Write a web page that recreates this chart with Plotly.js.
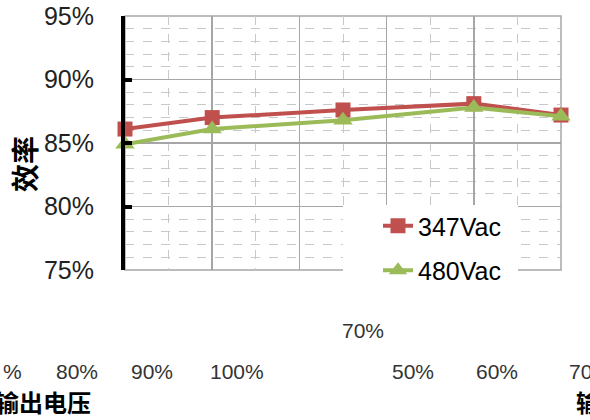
<!DOCTYPE html>
<html>
<head>
<meta charset="utf-8">
<script src="https://cdn.plot.ly/plotly-3.0.1.min.js"></script>
<style>
html,body{margin:0;padding:0;background:#fff;}
#chart{width:590px;height:420px;}
</style>
</head>
<body>
<div id="chart"></div>
<script>
// Data
var loadPct = [0, 20, 50, 80, 100];
var eff347 = [86.1, 87.0, 87.6, 88.1, 87.2];
var eff480 = [84.9, 86.1, 86.8, 87.8, 87.1];
var seriesNames = ['347Vac', '480Vac'];
var yTitle = '效率';
var xTitleLeft = '输出电压';
var stray1 = ['70%'];
var stray2 = ['%', '80%', '90%', '100%', '50%', '60%', '70'];

var font = 'Arial, "Liberation Sans", sans-serif';
var cjk = '"Noto Sans CJK SC", sans-serif';

var traces = [
  {x: loadPct, y: eff347, name: seriesNames[0], type: 'scatter', mode: 'lines+markers',
   legendgroup: 'a', cliponaxis: false,
   line: {color: '#C0504D', width: 4},
   marker: {symbol: 'square', size: 15, color: '#C0504D'}},
  {x: loadPct, y: eff480, name: seriesNames[1], type: 'scatter', mode: 'lines+markers',
   legendgroup: 'b', cliponaxis: false,
   line: {color: '#9BBB59', width: 4},
   marker: {symbol: 'triangle-up', size: 17, color: '#9BBB59'}}
];

function px2x(p){ return (p - 125) / 436; }
function px2y(p){ return (270 - p) / 254; }

var strayX2 = [12, 77, 152, 237, 413, 497, 580];
var annotations = [];
annotations.push({text: stray1[0], xref: 'paper', yref: 'paper', x: px2x(363), y: px2y(330),
  xanchor: 'center', yanchor: 'middle',
  showarrow: false, font: {family: font, size: 21, color: '#333'}});
for (var i = 0; i < stray2.length; i++) {
  annotations.push({text: stray2[i], xref: 'paper', yref: 'paper', x: px2x(strayX2[i]), y: px2y(371),
    xanchor: 'center', yanchor: 'middle',
    showarrow: false, font: {family: font, size: 21, color: '#333'}});
}
annotations.push({text: '<b>' + xTitleLeft + '</b>', xref: 'paper', yref: 'paper', x: px2x(93), y: px2y(401),
  xanchor: 'right', yanchor: 'middle', showarrow: false, font: {family: cjk, size: 24, color: '#000'}});
annotations.push({text: '<b>' + xTitleLeft + '</b>', xref: 'paper', yref: 'paper', x: px2x(574), y: px2y(401),
  xanchor: 'left', yanchor: 'middle', showarrow: false, font: {family: cjk, size: 24, color: '#000'}});
// y-axis title
annotations.push({text: '<b>' + yTitle + '</b>', xref: 'paper', yref: 'paper', x: px2x(24), y: px2y(164),
  xanchor: 'center', yanchor: 'middle', textangle: -90, showarrow: false,
  font: {family: cjk, size: 28, color: '#000'}});

var shapes = [
  // plot frame (top / right)
  {type: 'rect', xref: 'paper', yref: 'paper', x0: 0, x1: 1, y0: 0, y1: 1,
   line: {color: '#A6A6A6', width: 1.5}, layer: 'below'},
  // legend white box
  {type: 'rect', xref: 'paper', yref: 'paper', x0: px2x(343), x1: px2x(518), y0: px2y(292), y1: px2y(205),
   line: {width: 0}, fillcolor: '#fff', layer: 'above'}
];

var layout = {
  width: 590, height: 420,
  margin: {l: 125, r: 29, t: 16, b: 150},
  paper_bgcolor: '#fff', plot_bgcolor: '#fff',
  showlegend: true,
  legend: {x: px2x(378), y: px2y(203), xanchor: 'left', yanchor: 'top',
    bgcolor: 'rgba(255,255,255,0)', font: {family: font, size: 25, color: '#000'},
    tracegroupgap: 9},
  xaxis: {range: [0, 100], showticklabels: false, ticks: '', zeroline: false,
    showgrid: true, dtick: 20, gridcolor: '#A6A6A6', gridwidth: 1.5,
    minor: {dtick: 10, showgrid: true, gridcolor: '#C8C8C8', griddash: 'dash', gridwidth: 1},
    showline: false},
  yaxis: {range: [75, 95], dtick: 5, ticksuffix: '%', zeroline: false,
    showgrid: true, gridcolor: '#A6A6A6', gridwidth: 1.5,
    minor: {dtick: 1, showgrid: true, gridcolor: '#C8C8C8', griddash: 'dash', gridwidth: 1},
    showline: true, linecolor: '#000', linewidth: 4,
    ticks: 'inside', ticklen: 7, tickwidth: 4, tickcolor: '#000',
    ticklabelstandoff: 22,
    tickfont: {family: font, size: 25, color: '#222'}},
  shapes: shapes,
  annotations: annotations
};

Plotly.newPlot('chart', traces, layout, {displayModeBar: false, staticPlot: true});
</script>
</body>
</html>
